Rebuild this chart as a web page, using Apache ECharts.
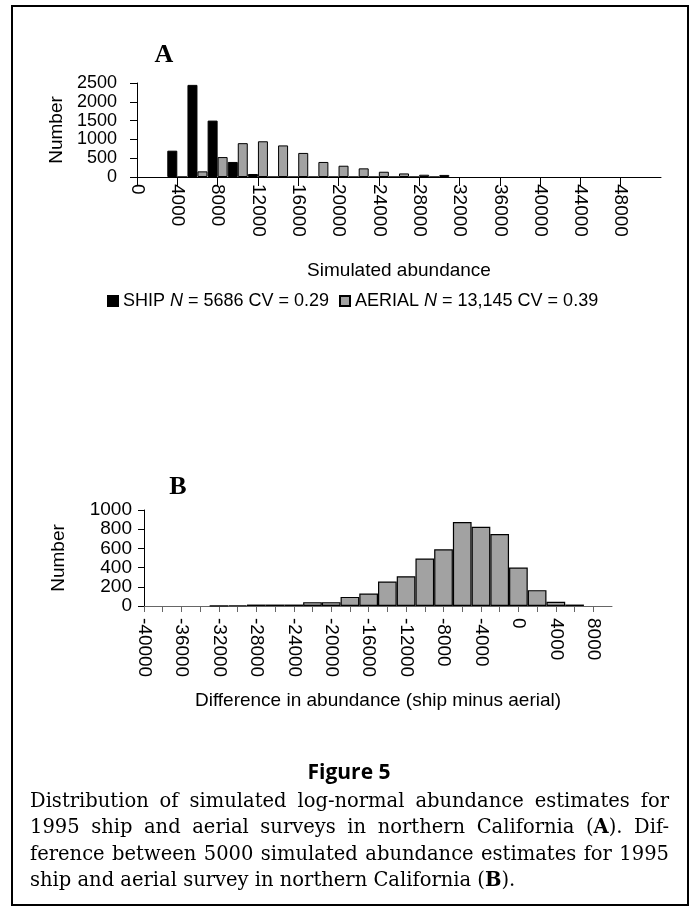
<!DOCTYPE html>
<html lang="en">
<head>
    <meta charset="UTF-8">
    <title>Figure 5</title>
    <style>
        html, body { margin: 0; padding: 0; background: #fff; }
        #chart { width: 698px; height: 911px; }
    </style>
</head>
<body>
    <div id="chart"></div>
    <script src="https://cdn.jsdelivr.net/npm/echarts@6/dist/echarts.min.js"></script>
    <script type="text/javascript">
        // panel A: bins of simulated abundance (bin centres)
        var binsA = [4000, 6000, 8000, 10000, 12000, 14000, 16000, 18000, 20000, 22000, 24000, 26000, 28000, 30000]
        var ship = [700, 2450, 1500, 400, 80, 0, 0, 0, 0, 0, 0, 0, 0, 0]
        var aerial = [0, 150, 530, 900, 950, 840, 640, 400, 300, 230, 140, 95, 60, 55]

        // panel B: difference ship minus aerial
        var binsB = [-32000, -30000, -28000, -26000, -24000, -22000, -20000, -18000, -16000, -14000,
            -12000, -10000, -8000, -6000, -4000, -2000, 0, 2000, 4000, 6000]
        var diff = [2, 5, 15, 15, 15, 40, 40, 95, 130, 255,
            310, 495, 590, 875, 825, 750, 400, 165, 45, 15]

        var legendText = {
            SHIP: '{t|SHIP }{i|N}{t| = 5686 CV = 0.29}',
            AERIAL: '{t|AERIAL }{i|N}{t| = 13,145 CV = 0.39}'
        }

        var captionLines = [
            'Distribution of simulated log-normal abundance estimates for',
            '1995 ship and aerial surveys in northern California (*A*). Dif-',
            'ference between 5000 simulated abundance estimates for 1995',
            'ship and aerial survey in northern California (*B*).'
        ]

        var SANS = 'Liberation Sans'
        var SERIF = 'DejaVu Serif'
        var GREY = '#a2a2a2'

        function pairs(xs, ys) {
            return xs.map((x, i) => [x, ys[i]])
        }

        // justified caption, word by word
        function captionGraphics() {
            var ctx = document.createElement('canvas').getContext('2d')
            var left = 30, right = 669, top0 = 802, lh = 26.3, size = 19.5
            var rich = {
                n: { fontFamily: SERIF, fontSize: size, fill: '#000' },
                b: { fontFamily: SERIF, fontSize: size, fontWeight: 'bold', fill: '#000' }
            }
            var els = []
            captionLines.forEach((line, li) => {
                var words = line.split(' ').map(w => w.split(/(\*[^*]+\*)/).filter(Boolean).map(s =>
                    s[0] === '*' ? { t: s.slice(1, -1), b: true } : { t: s, b: false }))
                var widths = words.map(segs => segs.reduce((acc, s) => {
                    ctx.font = (s.b ? 'bold ' : '') + size + 'px "' + SERIF + '"'
                    return acc + ctx.measureText(s.t).width
                }, 0))
                var total = widths.reduce((a, b) => a + b, 0)
                ctx.font = size + 'px "' + SERIF + '"'
                var last = li === captionLines.length - 1
                var gap = last ? ctx.measureText(' ').width : (right - left - total) / (words.length - 1)
                var x = left
                words.forEach((segs, wi) => {
                    els.push({
                        type: 'text', x: x, y: top0 + li * lh,
                        style: {
                            text: segs.map(s => '{' + (s.b ? 'b' : 'n') + '|' + s.t + '}').join(''),
                            rich: rich, verticalAlign: 'middle'
                        }
                    })
                    x += widths[wi] + gap
                })
            })
            return els
        }

        var labelBase = {
            fontSize: 19, color: '#000', fontFamily: SANS,
            showMinLabel: true, showMaxLabel: true, hideOverlap: false,
            formatter: v => String(v)
        }

        var axisBase = {
            axisLine: { show: true, onZero: false, lineStyle: { color: '#000', width: 1 } },
            splitLine: { show: false },
            nameTextStyle: { fontSize: 19, color: '#000', fontFamily: SANS },
            axisLabel: labelBase
        }

        var chart = echarts.init(document.getElementById('chart'), null, { renderer: 'canvas' })

        var option = {
            animation: false,
            backgroundColor: '#fff',
            textStyle: { fontFamily: SANS },
            grid: [
                { left: 137, top: 83, width: 524, height: 94 },
                { left: 144, top: 510, width: 468, height: 96 }
            ],
            legend: ['SHIP', 'AERIAL'].map((name, i) => ({
                data: [name],
                left: i === 0 ? 102 : 334,
                top: 287,
                icon: 'rect',
                itemWidth: 10,
                itemHeight: 10,
                itemGap: 0,
                selectedMode: false,
                formatter: n => legendText[n],
                textStyle: {
                    color: '#000',
                    rich: {
                        t: { fontSize: 18, fontFamily: SANS, color: '#000' },
                        i: { fontSize: 18, fontFamily: SANS, fontStyle: 'italic', color: '#000' }
                    }
                }
            })),
            xAxis: [
                Object.assign({}, axisBase, {
                    gridIndex: 0, type: 'value', min: 0, max: 52000, interval: 4000,
                    name: 'Simulated abundance', nameLocation: 'middle', nameGap: 84,
                    axisTick: { show: true, length: 9, lineStyle: { color: '#000' } },
                    axisLabel: Object.assign({}, labelBase, {
                        rotate: -90, margin: 7, showMaxLabel: false,
                        formatter: v => (v >= 52000 ? '' : String(v))
                    })
                }),
                Object.assign({}, axisBase, {
                    gridIndex: 1, type: 'value', min: -40000, max: 10000, interval: 2000,
                    name: 'Difference in abundance (ship minus aerial)', nameLocation: 'middle', nameGap: 85,
                    axisLine: { show: true, onZero: false, lineStyle: { color: '#666', width: 1 } },
                    axisTick: { show: true, length: 6, lineStyle: { color: '#666' } },
                    axisLabel: Object.assign({}, labelBase, {
                        rotate: -90, margin: 12, showMaxLabel: false,
                        formatter: v => (v % 4000 === 0 && v < 10000 ? String(v) : '')
                    })
                })
            ],
            yAxis: [
                Object.assign({}, axisBase, {
                    gridIndex: 0, type: 'value', min: 0, max: 2500, interval: 500,
                    name: 'Number', nameLocation: 'middle', nameRotate: 90, nameGap: 70,
                    axisTick: { show: true, length: 7, lineStyle: { color: '#000' } },
                    axisLabel: Object.assign({}, labelBase, { margin: 20, fontSize: 18, lineHeight: 14 })
                }),
                Object.assign({}, axisBase, {
                    gridIndex: 1, type: 'value', min: 0, max: 1000, interval: 200,
                    name: 'Number', nameLocation: 'middle', nameRotate: 90, nameGap: 76,
                    axisTick: { show: true, length: 6, lineStyle: { color: '#000' } },
                    axisLabel: Object.assign({}, labelBase, { margin: 12, lineHeight: 15 })
                })
            ],
            series: [
                {
                    name: 'SHIP', type: 'bar', xAxisIndex: 0, yAxisIndex: 0,
                    data: pairs(binsA, ship), barWidth: 10, barGap: '0%',
                    itemStyle: { color: '#000', borderColor: '#000', borderWidth: 1 }
                },
                {
                    name: 'AERIAL', type: 'bar', xAxisIndex: 0, yAxisIndex: 0,
                    data: pairs(binsA, aerial), barWidth: 10, barGap: '0%',
                    itemStyle: { color: GREY, borderColor: '#000', borderWidth: 1 }
                },
                {
                    name: 'Difference', type: 'bar', xAxisIndex: 1, yAxisIndex: 1,
                    data: pairs(binsB, diff), barWidth: 18.7,
                    itemStyle: { color: GREY, borderColor: '#000', borderWidth: 1.2 }
                }
            ],
            graphic: [
                {
                    type: 'rect', shape: { x: 12, y: 6, width: 676, height: 899 },
                    style: { fill: 'none', stroke: '#000', lineWidth: 2 }, silent: true
                },
                {
                    type: 'text', x: 164, y: 55,
                    style: { text: 'A', font: 'bold 26px "Liberation Serif"', align: 'center', verticalAlign: 'middle', fill: '#000' }
                },
                {
                    type: 'text', x: 178, y: 487,
                    style: { text: 'B', font: 'bold 26px "Liberation Serif"', align: 'center', verticalAlign: 'middle', fill: '#000' }
                },
                {
                    type: 'text', x: 349, y: 773,
                    style: { text: 'Figure 5', font: 'bold 21px "Open Sans"', align: 'center', verticalAlign: 'middle', fill: '#000' }
                }
            ].concat(captionGraphics())
        }

        chart.setOption(option)
    </script>
</body>
</html>
